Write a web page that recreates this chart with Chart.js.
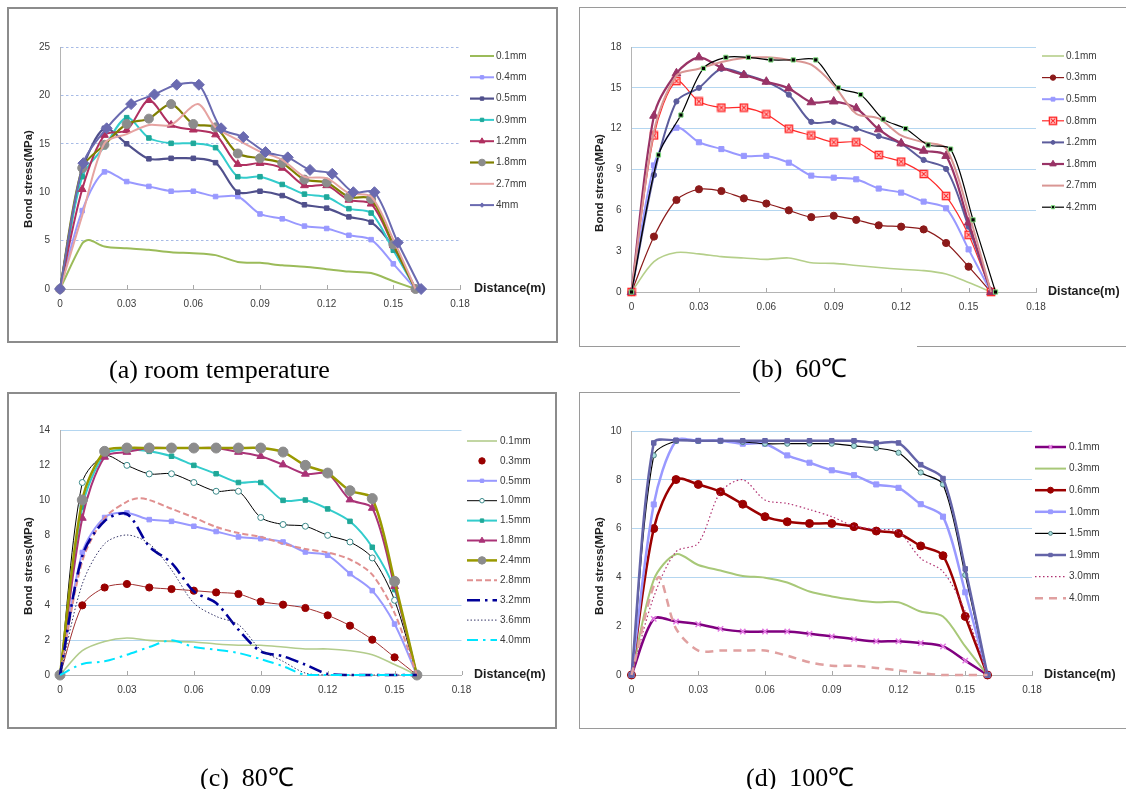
<!DOCTYPE html>
<html><head><meta charset="utf-8">
<script src="https://cdn.jsdelivr.net/npm/chart.js@4.4.0/dist/chart.umd.min.js"></script>
<style>
body{margin:0;background:#fff;width:1126px;height:789px;position:relative;overflow:hidden;font-family:"Liberation Sans",Arial,sans-serif}
canvas{position:absolute}
.box{position:absolute;border:2px solid #8c8c8c;box-sizing:border-box}
.ln{position:absolute;background:#9a9a9a}
.cap{position:absolute;font-family:"Liberation Serif","Times New Roman",serif;font-size:26px;line-height:26px;color:#000;white-space:pre}
</style></head><body>
<div class="box" style="left:7px;top:7px;width:551px;height:336px"></div>
<div class="box" style="left:7px;top:392px;width:550px;height:337px"></div>
<div class="ln" style="left:579px;top:7px;width:1px;height:340px"></div>
<div class="ln" style="left:579px;top:7px;width:547px;height:1px"></div>
<div class="ln" style="left:579px;top:346px;width:161px;height:1px"></div>
<div class="ln" style="left:917px;top:346px;width:209px;height:1px"></div>
<div class="ln" style="left:579px;top:392px;width:1px;height:337px"></div>
<div class="ln" style="left:579px;top:392px;width:161px;height:1px"></div>
<div class="ln" style="left:579px;top:728px;width:547px;height:1px"></div>

<canvas id="ca" width="563" height="390" style="left:0;top:0"></canvas>
<canvas id="cb" width="563" height="390" style="left:563px;top:0"></canvas>
<canvas id="cc" width="563" height="397" style="left:0;top:392px"></canvas>
<canvas id="cd" width="563" height="397" style="left:563px;top:392px"></canvas>

<div class="cap" style="left:109px;top:357px">(a) room temperature</div>
<div class="cap" style="left:752px;top:356px">(b)  60℃</div>
<div class="cap" style="left:200px;top:765px">(c)  80℃</div>
<div class="cap" style="left:746px;top:765px">(d)  100℃</div>

<script>
// ---------------- DATA ----------------
const X = [0,0.01,0.02,0.03,0.04,0.05,0.06,0.07,0.08,0.09,0.10,0.11,0.12,0.13,0.14,0.15,0.16];
const X_TICKS = ['0','0.03','0.06','0.09','0.12','0.15','0.18'];

// (a) room temperature
const A_labels = ['0.1mm','0.4mm','0.5mm','0.9mm','1.2mm','1.8mm','2.7mm','4mm'];
const A_x01 = [0,0.01,0.013,0.02,0.03,0.04,0.05,0.06,0.07,0.08,0.09,0.10,0.11,0.12,0.13,0.14,0.15,0.16];
const A_01 = [0,4.7,5.05,4.4,4.2,4.05,3.8,3.7,3.5,2.8,2.7,2.45,2.3,2.05,1.8,1.65,0.8,0];
const A_04 = [0,8.1,12.1,11.1,10.6,10.1,10.1,9.55,9.55,7.75,7.25,6.5,6.25,5.55,5.1,2.6,0];
const A_05 = [0,12.2,16.6,15.0,13.45,13.5,13.5,13.05,10.0,10.1,9.65,8.7,8.35,7.45,6.9,4.3,0];
const A_09 = [0,11.6,14.7,17.7,15.6,15.05,15.05,14.6,11.6,11.6,10.8,9.8,9.5,8.3,7.85,4.0,0];
const A_12 = [0,10.3,15.9,16.4,19.5,16.95,16.45,15.95,12.9,13.0,12.5,10.7,10.7,9.2,8.8,4.5,0];
const A_18 = [0,12.5,14.9,17.05,17.6,19.1,17.05,16.7,14.0,13.5,13.0,11.3,11.0,9.5,9.3,4.6,0];
const A_x27 = [0,0.01,0.02,0.03,0.04,0.05,0.062,0.07,0.08,0.09,0.10,0.11,0.12,0.13,0.14,0.15,0.16];
const A_27 = [0,7.6,15.05,16.0,16.95,16.95,19.1,16.7,15.4,14.2,13.35,11.6,11.45,9.9,9.55,5.1,0];
const A_x40 = [0,0.0105,0.021,0.032,0.0425,0.0525,0.0625,0.0725,0.0825,0.0925,0.1025,0.1125,0.1225,0.132,0.1415,0.152,0.1625];
const A_40 = [0,13.0,16.6,19.1,20.1,21.1,21.1,16.6,15.7,14.15,13.6,12.3,11.9,10.0,10.0,4.8,0];

// (b) 60C
const B_labels = ['0.1mm','0.3mm','0.5mm','0.8mm','1.2mm','1.8mm','2.7mm','4.2mm'];
const B_01 = [0,2.23,2.9,2.8,2.6,2.5,2.4,2.5,2.15,2.1,1.95,1.8,1.67,1.57,1.32,0.7,0];
const B_03 = [0,4.07,6.76,7.55,7.42,6.88,6.5,6.0,5.5,5.6,5.3,4.9,4.8,4.6,3.6,1.86,0];
const B_05 = [0,9.3,12.07,11.0,10.5,10.0,10.0,9.5,8.55,8.4,8.28,7.6,7.3,6.64,6.15,3.13,0];
const B_08 = [0,11.5,15.5,14.0,13.55,13.55,13.05,12.0,11.5,11.0,11.0,10.07,9.58,8.67,7.05,4.2,0];
const B_12 = [0,8.6,14.0,15.0,16.4,16.0,15.45,14.5,12.5,12.5,12.0,11.45,10.9,9.7,9.04,4.8,0];
const B_18 = [0,12.95,16.07,17.24,16.48,15.94,15.45,14.96,13.94,14.0,13.5,11.95,10.92,10.38,10.0,5.1,0];
const B_27 = [0,11.8,15.9,16.4,16.9,17.2,17.24,17.05,16.7,15.2,13.1,12.75,11.5,11.0,10.55,5.8,0];
const B_x42 = [0,0.012,0.022,0.032,0.042,0.052,0.062,0.072,0.082,0.092,0.102,0.112,0.122,0.132,0.142,0.152,0.162];
const B_42 = [0,10.07,13.0,16.43,17.24,17.24,17.05,17.05,17.05,15.0,14.5,12.7,12.0,10.8,10.5,5.3,0];

// (c) 80C
const C_labels = ['0.1mm','0.3mm','0.5mm','1.0mm','1.5mm','1.8mm','2.4mm','2.8mm','3.2mm','3.6mm','4.0mm'];
const C_01 = [0,1.39,1.92,2.11,1.98,1.92,1.89,1.77,1.7,1.7,1.6,1.49,1.49,1.39,1.16,0.6,0];
const C_03 = [0,3.98,5.0,5.2,5.0,4.91,4.82,4.72,4.63,4.2,4.02,3.83,3.41,2.82,2.02,1.01,0];
const C_05 = [0,7.0,9.0,9.26,8.88,8.78,8.5,8.2,7.89,7.79,7.6,7.03,6.84,5.79,4.82,2.91,0];
const C_10 = [0,11.0,12.53,11.98,11.49,11.5,11.0,10.5,10.5,9.0,8.6,8.5,7.98,7.6,6.69,4.27,0];
const C_15 = [0,9.6,12.6,12.88,12.78,12.5,11.98,11.5,11.0,11.0,9.98,10.0,9.49,8.78,7.3,4.88,0];
const C_18 = [0,8.97,12.46,12.74,12.97,12.97,12.97,12.97,12.74,12.5,12.02,11.49,11.5,10.02,9.54,5.07,0];
const C_24 = [0,10.0,12.78,12.97,12.97,12.97,12.97,12.97,12.97,12.97,12.74,11.98,11.54,10.53,10.08,5.35,0];
const C_x28 = [0,0.01,0.02,0.03,0.035,0.04,0.05,0.06,0.07,0.08,0.09,0.10,0.11,0.12,0.13,0.14,0.15,0.16];
const C_28 = [0,6.5,8.97,9.9,10.1,10.0,9.5,9.0,8.46,8.11,7.89,7.5,7.2,7.0,6.6,5.73,3.54,0];
const C_32 = [0,6.8,8.8,9.2,7.35,6.4,4.78,4.11,2.59,1.35,1.07,0.59,0.06,0,0,0,0];
const C_36 = [0,5.2,7.5,8.0,7.5,6.0,4.11,3.35,2.88,1.45,0.78,0.11,0,0,0,0,0];
const C_40 = [0,0.63,0.78,1.16,1.6,1.98,1.6,1.45,1.26,0.91,0.5,0,0,0,0,0,0];

// (d) 100C
const D_labels = ['0.1mm','0.3mm','0.6mm','1.0mm','1.5mm','1.9mm','3.0mm','4.0mm'];
const D_01 = [0,2.3,2.19,2.08,1.89,1.78,1.78,1.78,1.69,1.58,1.47,1.38,1.38,1.31,1.17,0.59,0];
const D_03 = [0,3.9,4.95,4.51,4.28,4.06,3.99,3.79,3.42,3.22,3.08,2.98,2.98,2.6,2.4,1.17,0];
const D_06 = [0,6.0,8.01,7.81,7.51,7.0,6.49,6.28,6.21,6.21,6.08,5.9,5.8,5.29,4.89,2.4,0];
const D_10 = [0,6.99,9.6,9.6,9.6,9.48,9.48,9.0,8.7,8.39,8.19,7.81,7.67,7.0,6.49,3.39,0];
const D_15 = [0,9.0,9.59,9.59,9.59,9.55,9.48,9.48,9.48,9.48,9.39,9.3,9.11,8.3,7.81,4.1,0];
const D_19 = [0,9.51,9.62,9.6,9.6,9.6,9.6,9.6,9.6,9.6,9.6,9.51,9.51,8.62,8.05,4.35,0];
const D_30 = [0,3.2,5.05,5.4,7.5,8.0,7.17,7.03,6.78,6.49,6.1,5.97,5.87,4.78,4.24,2.6,0];
const D_x40 = [0,0.012,0.02,0.03,0.04,0.05,0.06,0.07,0.08,0.09,0.10,0.11,0.12,0.13,0.14,0.15,0.16];
const D_40 = [0,4.0,1.9,1.0,1.0,1.0,1.0,0.79,0.52,0.38,0.38,0.29,0.19,0.08,0,0,0];

// ---------------- RENDERING ----------------
const FONT = '"Liberation Sans", Arial, sans-serif';
const YW = 40, XH = 30; // fixed scale box sizes

function mkPt(size, draw){ const c=document.createElement('canvas'); c.width=c.height=size; draw(c.getContext('2d'), size); return c; }
const redBox = mkPt(10, (g,s)=>{ g.fillStyle='#fff'; g.fillRect(1,1,s-2,s-2); g.strokeStyle='#ff2a2a'; g.lineWidth=1.6; g.strokeRect(1.5,1.5,s-3,s-3); g.lineWidth=1.2; g.beginPath(); g.moveTo(3,3); g.lineTo(s-3,s-3); g.moveTo(s-3,3); g.lineTo(3,s-3); g.stroke(); });

function ds(label, xs, ys, st){
  return {
    label,
    data: xs.map((x,i)=>({x, y: ys[i]})),
    borderColor: st.c, borderWidth: st.w ?? 2, borderDash: st.dash || [],
    pointStyle: st.ps || 'circle', pointRadius: st.r || 0,
    pointBackgroundColor: st.pf || st.c, pointBorderColor: st.pb || st.c, pointBorderWidth: st.pw ?? 1,
    tension: 0.3, fill: false, clip: false, legendNoLine: !!st.noLine, legendR: st.lr
  };
}

const decor = {
  id: 'decor',
  afterDraw(chart, args, o){
    const ctx = chart.ctx, ca = chart.chartArea, xs = chart.scales.x;
    ctx.save();
    ctx.strokeStyle = '#a8a8a8'; ctx.lineWidth = 1;
    xs.ticks.forEach(t => {
      if (t.value === 0) return;
      const px = Math.round(xs.getPixelForValue(t.value)) + 0.5;
      ctx.beginPath(); ctx.moveTo(px, ca.bottom); ctx.lineTo(px, ca.bottom - 4); ctx.stroke();
    });
    ctx.fillStyle = '#1e1e1e';
    ctx.font = 'bold 12.5px ' + FONT; ctx.textBaseline = 'middle'; ctx.textAlign = 'left';
    ctx.fillText('Distance(m)', o.xtx, ca.bottom);
    ctx.save(); ctx.translate(o.ytx, o.yty); ctx.rotate(-Math.PI/2);
    ctx.textAlign = 'center'; ctx.font = 'bold 11.5px ' + FONT; ctx.fillText('Bond stress(MPa)', 0, 0);
    ctx.restore();
    chart.data.datasets.forEach((d, i) => {
      const y = o.ly + i * o.ls;
      if (!d.legendNoLine) {
        ctx.save(); ctx.strokeStyle = d.borderColor; ctx.lineWidth = d.borderWidth; ctx.setLineDash(d.borderDash || []);
        ctx.beginPath(); ctx.moveTo(o.lx1, y); ctx.lineTo(o.lx2, y); ctx.stroke(); ctx.restore();
      }
      if (d.pointRadius > 0) {
        ctx.save(); ctx.fillStyle = d.pointBackgroundColor; ctx.strokeStyle = d.pointBorderColor; ctx.lineWidth = d.pointBorderWidth; ctx.setLineDash([]);
        Chart.helpers.drawPoint(ctx, {pointStyle: d.pointStyle, radius: d.legendR || d.pointRadius * 0.75, rotation: 0, borderWidth: d.pointBorderWidth}, (o.lx1 + o.lx2) / 2, y);
        ctx.restore();
      }
      ctx.fillStyle = '#3a3a3a'; ctx.font = '10px ' + FONT; ctx.textAlign = 'left'; ctx.textBaseline = 'middle';
      ctx.fillText(d.label, o.ltx, y);
    });
    ctx.restore();
  }
};

function build(id, off, area, yMax, yStep, hidden, gridStyle, datasets, dec){
  const cv = document.getElementById(id);
  const W = cv.width, H = cv.height;
  datasets.forEach((d, i) => d.order = -i);
  const dx = off[0], dy = off[1];
  const opts = {lx1: dec.lx1 - dx, lx2: dec.lx2 - dx, ltx: dec.ltx - dx, ly: dec.ly - dy, ls: dec.ls,
                xtx: dec.xtx - dx, ytx: dec.ytx - dx, yty: dec.yty - dy};
  new Chart(cv, {
    type: 'line',
    data: { datasets },
    options: {
      responsive: false, animation: false, events: [],
      layout: { padding: { left: area[0] - dx - YW, right: W - (area[1] - dx), top: area[2] - dy, bottom: H - (area[3] - dy) - XH } },
      plugins: { legend: { display: false }, tooltip: { enabled: false }, decor: opts },
      scales: {
        x: {
          type: 'linear', min: 0, max: 0.18,
          afterFit: s => { s.height = XH; s.paddingLeft = 0; s.paddingRight = 0; },
          afterBuildTicks: s => { s.ticks = X_TICKS.map((t, i) => ({value: i * 0.03})); },
          ticks: { padding: 9, color: '#3c3c3c', font: { size: 10, family: FONT }, maxRotation: 0, autoSkip: false,
                   callback: (v, i) => X_TICKS[i] },
          grid: { color: 'rgba(0,0,0,0)', drawTicks: false },
          border: { display: true, color: '#b4b4b4', width: 1 }
        },
        y: {
          min: 0, max: yMax,
          afterFit: s => { s.width = YW; s.paddingTop = 0; s.paddingBottom = 0; },
          ticks: { stepSize: yStep, padding: 10, color: '#3c3c3c', font: { size: 10, family: FONT } },
          grid: { drawTicks: false, lineWidth: 1,
                  color: c => (c.tick && (c.tick.value === 0 || hidden.includes(c.tick.value))) ? 'rgba(0,0,0,0)' : gridStyle.c },
          border: { display: true, color: '#b4b4b4', width: 1, dash: gridStyle.dash || [] }
        }
      }
    },
    plugins: [decor]
  });
}

// (a)
build('ca', [0, 0], [60, 460, 47, 289], 25, 5, [10], {c: '#a7bbe6', dash: [2.5, 2.5]}, [
  ds(A_labels[0], A_x01, A_01, {c: '#9bbb59', w: 2}),
  ds(A_labels[1], X, A_04, {c: '#9999ff', w: 2, ps: 'rect', r: 3.2}),
  ds(A_labels[2], X, A_05, {c: '#50508c', w: 2.2, ps: 'rect', r: 3.2}),
  ds(A_labels[3], X, A_09, {c: '#33cccc', w: 2, ps: 'rect', r: 3.2, pf: '#1fa89a', pb: '#1fa89a'}),
  ds(A_labels[4], X, A_12, {c: '#b03060', w: 2, ps: 'triangle', r: 4.5}),
  ds(A_labels[5], X, A_18, {c: '#808000', w: 2.2, ps: 'circle', r: 4.5, pf: '#8c8c8c', pb: '#8c8c8c'}),
  ds(A_labels[6], A_x27, A_27, {c: '#e6a3a1', w: 2}),
  ds(A_labels[7], A_x40, A_40, {c: '#6a6ab0', w: 2, ps: 'rectRot', r: 5.5, lr: 2.2})
], {lx1: 470, lx2: 494, ltx: 496, ly: 56, ls: 21.3, xtx: 474, ytx: 29, yty: 179});

// (b)
build('cb', [563, 0], [631.5, 1036, 47, 292], 18, 3, [3], {c: '#b4d6f0'}, [
  ds(B_labels[0], X, B_01, {c: '#b5cf8a', w: 1.6}),
  ds(B_labels[1], X, B_03, {c: '#8b1a1a', w: 1.2, ps: 'circle', r: 3.6}),
  ds(B_labels[2], X, B_05, {c: '#9999ff', w: 2, ps: 'rect', r: 3.6}),
  ds(B_labels[3], X, B_08, {c: '#ff2a2a', w: 1.2, ps: redBox, r: 5}),
  ds(B_labels[4], X, B_12, {c: '#5c5c9c', w: 2, ps: 'circle', r: 2.6}),
  ds(B_labels[5], X, B_18, {c: '#993366', w: 2.2, ps: 'triangle', r: 5}),
  ds(B_labels[6], X, B_27, {c: '#d99694', w: 2}),
  ds(B_labels[7], B_x42, B_42, {c: '#000000', w: 1.2, ps: 'rect', r: 3, pf: '#000000', pb: '#7fdc7f'})
], {lx1: 1042, lx2: 1064, ltx: 1066, ly: 56, ls: 21.6, xtx: 1048, ytx: 600, yty: 183});

// (c)
build('cc', [0, 392], [60, 461.5, 430, 675], 14, 2, [6, 8, 10, 12], {c: '#b4d6f0'}, [
  ds(C_labels[0], X, C_01, {c: '#b3cc8c', w: 1.6}),
  ds(C_labels[1], X, C_03, {c: '#a03030', w: 1, ps: 'circle', r: 3.6, pf: '#990000', pb: '#990000', noLine: true, lr: 3.2}),
  ds(C_labels[2], X, C_05, {c: '#9999ff', w: 2, ps: 'rect', r: 3.2}),
  ds(C_labels[3], X, C_10, {c: '#000000', w: 1, ps: 'circle', r: 3, pf: '#ffffff', pb: '#3a8a8a'}),
  ds(C_labels[4], X, C_15, {c: '#33cccc', w: 2, ps: 'rect', r: 3.2, pf: '#20a898', pb: '#20a898'}),
  ds(C_labels[5], X, C_18, {c: '#aa3377', w: 2, ps: 'triangle', r: 4.5}),
  ds(C_labels[6], X, C_24, {c: '#999900', w: 2.5, ps: 'circle', r: 5, pf: '#8c8c8c', pb: '#8c8c8c'}),
  ds(C_labels[7], C_x28, C_28, {c: '#e09090', w: 2, dash: [6, 3]}),
  ds(C_labels[8], X, C_32, {c: '#000099', w: 2.6, dash: [13, 5, 2.5, 5]}),
  ds(C_labels[9], X, C_36, {c: '#333366', w: 1, dash: [1.5, 2]}),
  ds(C_labels[10], X, C_40, {c: '#00e5ff', w: 2, dash: [11, 5, 2.5, 5]})
], {lx1: 467, lx2: 497, ltx: 500, ly: 441, ls: 19.9, xtx: 474, ytx: 29, yty: 566});

// (d)
build('cd', [563, 392], [631.5, 1032, 431, 675], 10, 2, [2], {c: '#b4d6f0'}, [
  ds(D_labels[0], X, D_01, {c: '#800080', w: 2.5, ps: 'crossRot', r: 3.8, pb: '#e27ae2', pw: 1.5}),
  ds(D_labels[1], X, D_03, {c: '#a8c878', w: 2}),
  ds(D_labels[2], X, D_06, {c: '#9b0000', w: 2.5, ps: 'circle', r: 4}),
  ds(D_labels[3], X, D_10, {c: '#9999ff', w: 2.5, ps: 'rect', r: 3.6}),
  ds(D_labels[4], X, D_15, {c: '#000000', w: 1.2, ps: 'circle', r: 2.6, pf: '#a8dede', pb: '#508080'}),
  ds(D_labels[5], X, D_19, {c: '#6464a8', w: 2.5, ps: 'rect', r: 3.2}),
  ds(D_labels[6], X, D_30, {c: '#b03070', w: 1.2, dash: [1.5, 2.5]}),
  ds(D_labels[7], D_x40, D_40, {c: '#e0a0a0', w: 2.5, dash: [8, 6]})
], {lx1: 1035, lx2: 1066, ltx: 1069, ly: 447, ls: 21.6, xtx: 1044, ytx: 600, yty: 566});
</script>
</body></html>
